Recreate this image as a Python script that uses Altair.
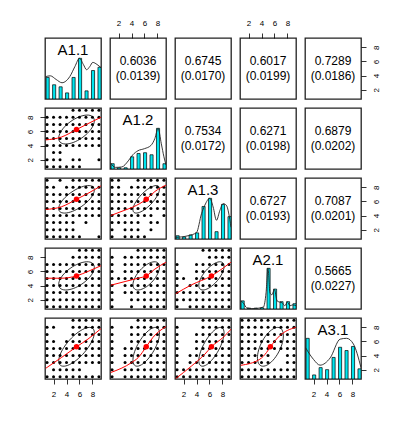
import altair as alt
import pandas as pd
import numpy as np

FONT = "Liberation Sans"
names = ["A1.1", "A1.2", "A1.3", "A2.1", "A3.1"]
means = [5.54, 6.27, 6.30, 5.37, 5.24]
sds = [2.75, 2.05, 1.95, 2.0, 2.75]
levels = [1, 2, 3, 4, 5, 6, 7, 8, 9]
ticks = [2, 4, 6, 8]

# upper panels: estimate and (standard error)
r_01, se_01 = 0.6036, 0.0139
r_02, se_02 = 0.6745, 0.0170
r_03, se_03 = 0.6017, 0.0199
r_04, se_04 = 0.7289, 0.0186
r_12, se_12 = 0.7534, 0.0172
r_13, se_13 = 0.6271, 0.0198
r_14, se_14 = 0.6879, 0.0202
r_23, se_23 = 0.6727, 0.0193
r_24, se_24 = 0.7087, 0.0201
r_34, se_34 = 0.5665, 0.0227
upper = {(0, 1): (r_01, se_01), (0, 2): (r_02, se_02), (0, 3): (r_03, se_03), (0, 4): (r_04, se_04),
         (1, 2): (r_12, se_12), (1, 3): (r_13, se_13), (1, 4): (r_14, se_14),
         (2, 3): (r_23, se_23), (2, 4): (r_24, se_24), (3, 4): (r_34, se_34)}

# histogram heights (relative to the tallest bar) for values 1..9
hist_a11 = [0.53, 0.35, 0.30, 0.15, 0.53, 1.00, 0.20, 0.70, 0.78]
hist_a12 = [0.13, 0.03, 0.03, 0.30, 0.38, 0.40, 0.35, 1.00, 0.13]
hist_a13 = [0.08, 0.05, 0.10, 0.15, 0.80, 1.00, 0.18, 0.85, 0.55]
hist_a21 = [0.20, 0.02, 0.02, 0.03, 1.00, 0.49, 0.18, 0.18, 0.13]
hist_a31 = [1.00, 0.10, 0.28, 0.23, 0.53, 0.78, 0.70, 0.80, 0.25]
hists = [hist_a11, hist_a12, hist_a13, hist_a21, hist_a31]

# density curves (relative to peak)
dx_a11 = [0.77, 1.5, 2.4, 3.3, 4.5, 5.3, 6.0, 6.6, 7.1, 7.6, 8.05, 8.7, 9.32]
dy_a11 = [0.55, 0.57, 0.48, 0.40, 0.55, 0.80, 1.00, 0.85, 0.72, 0.80, 0.90, 0.85, 0.77]
dx_a12 = [0.77, 1.5, 2.5, 3.5, 4.2, 5.0, 6.0, 7.0, 7.6, 8.1, 8.6, 9.0, 9.32]
dy_a12 = [0.15, 0.04, 0.05, 0.20, 0.35, 0.45, 0.50, 0.58, 0.75, 1.00, 0.62, 0.30, 0.10]
dx_a13 = [0.77, 2.7, 4.0, 4.77, 5.28, 6.05, 6.56, 7.08, 7.6, 8.1, 8.6, 9.32]
dy_a13 = [0.04, 0.08, 0.16, 0.62, 0.83, 1.00, 0.79, 0.46, 0.70, 0.87, 0.83, 0.29]
dx_a21 = [0.77, 1.2, 1.7, 2.5, 3.5, 4.3, 4.7, 5.0, 5.3, 5.6, 6.0, 6.4, 6.8, 7.2, 7.6, 8.0, 8.4, 8.8, 9.32]
dy_a21 = [0.20, 0.15, 0.03, 0.01, 0.02, 0.05, 0.40, 1.00, 0.40, 0.35, 0.48, 0.20, 0.17, 0.15, 0.08, 0.17, 0.08, 0.10, 0.08]
dx_a31 = [0.77, 2.0, 3.0, 4.57, 6.1, 7.1, 8.15, 9.32]
dy_a31 = [0.77, 0.48, 0.34, 0.52, 0.98, 1.00, 0.86, 0.28]
dens = [(dx_a11, dy_a11), (dx_a12, dy_a12), (dx_a13, dy_a13), (dx_a21, dy_a21), (dx_a31, dy_a31)]

# loess smoothers in the lower panels
loess = {
    (1, 0): ([0.8, 3.2, 5.54, 7.3, 9.3], [4.8, 5.2, 6.27, 7.1, 8.0]),
    (2, 0): ([0.8, 3.2, 5.54, 7.3, 9.3], [4.86, 5.24, 6.30, 7.14, 8.2]),
    (2, 1): ([0.8, 2.7, 4.3, 6.27, 7.6, 9.3], [4.0, 4.67, 5.24, 6.30, 7.4, 8.3]),
    (3, 0): ([0.8, 3.2, 5.54, 7.3, 9.3], [5.04, 5.04, 5.37, 6.0, 6.8]),
    (3, 1): ([0.8, 3.0, 5.0, 6.27, 7.6, 9.3], [4.05, 4.57, 5.04, 5.37, 6.33, 7.3]),
    (3, 2): ([0.8, 3.2, 6.30, 8.1, 9.3], [2.85, 4.09, 5.37, 6.47, 7.3]),
    (4, 0): ([0.8, 3.2, 5.54, 7.3, 9.3], [2.2, 3.71, 5.24, 6.33, 7.8]),
    (4, 1): ([0.8, 4.0, 5.03, 6.27, 7.3, 9.3], [1.6, 3.0, 3.71, 5.24, 6.57, 8.1]),
    (4, 2): ([0.8, 3.23, 5.28, 6.30, 8.1, 9.4], [0.75, 2.52, 4.19, 5.24, 6.57, 7.8]),
    (4, 3): ([0.8, 3.74, 4.77, 5.37, 6.8, 9.3], [2.62, 3.48, 4.43, 5.24, 6.8, 8.0]),
}

# occupied cells of the lower scatter panels, rows from value 9 down to 1, columns 1..9
dots = {
    (1, 0): ["....#####", "#########", "#########", "#########", "#########", "#########", ".##......", "###.##..#", "######..."],
    (2, 0): ["#.#.#####", "##.######", "#########", "#########", "#########", "#########", "#####.#..", "#####....", "######..#"],
    (2, 1): ["##..#####", "##.######", "#########", "#########", "#########", "#######.#", "#####.##.", "#.###.#..", "#.####..."],
    (3, 0): [".....####", "....#####", "#########", "#########", "#########", "#########", "#########", "#########", "#########"],
    (3, 1): ["....#####", "#.#######", "#.#######", "#.#######", "#########", "#.#######", "#.#######", "#..######", "#..#.####"],
    (3, 2): ["....#####", ".....####", "#..######", "#..######", "##.######", "#.#######", "#########", "#########", "#.#######"],
    (4, 0): ["....#####", "##..#####", "#...#####", "##.######", "#########", "#########", "#########", ".#####...", "#########"],
    (4, 1): ["....#####", "#..######", "#..######", "#..######", "#.#######", "#.#######", "#.#######", "#.#######", "#.#######"],
    (4, 2): ["....#####", "#...#####", "#..######", "#..######", "#..######", "#.#######", "#.#######", "#########", "#########"],
    (4, 3): ["#########", "#########", "#########", "#########", "#########", "#####..##", "#####..##", "#########", "#########"],
}

W, H = 56, 61
DOM = [0.68, 9.32]
VIEW = alt.ViewBackground(stroke="#222222", strokeWidth=1.3, fill="white")


def sc():
    return alt.Scale(domain=DOM, nice=False, zero=False)


def xaxis(orient):
    if orient is None:
        return None
    return alt.Axis(orient=orient, values=ticks, tickSize=5, labelPadding=6, labelFontSize=8,
                    labelFont=FONT, domain=False, grid=False, title=None, labelAngle=0,
                    tickColor="#000", labelColor="#000", tickWidth=0.8)


def yaxis(orient):
    if orient is None:
        return None
    return alt.Axis(orient=orient, values=ticks, tickSize=5, labelPadding=6, labelFontSize=8,
                    labelFont=FONT, domain=False, grid=False, title=None, labelAngle=270,
                    tickColor="#000", labelColor="#000", tickWidth=0.8)


def orients(i, j):
    xo = "bottom" if (i == 4 and j in (0, 2, 4)) else ("top" if (i == 0 and j in (1, 3)) else None)
    yo = "left" if (j == 0 and i in (1, 3)) else ("right" if (j == 4 and i in (0, 2, 4)) else None)
    return xo, yo


def XE(field, i, j):
    return alt.X(field, scale=sc(), axis=xaxis(orients(i, j)[0]))


def YE(field, i, j):
    return alt.Y(field, scale=sc(), axis=yaxis(orients(i, j)[1]))


def frame(i, j):
    df = pd.DataFrame({"x": ticks, "y": ticks})
    return alt.Chart(df).mark_point(opacity=0).encode(x=XE("x:Q", i, j), y=YE("y:Q", i, j))


def lower(i, j):
    pts = []
    for k, row in enumerate(dots[(i, j)]):
        yv = 9 - k
        for c, ch in enumerate(row):
            if ch == "#":
                pts.append({"x": levels[c], "y": yv})
    pdf = pd.DataFrame(pts)
    sc_layer = alt.Chart(pdf).mark_circle(size=9, color="black", opacity=1, clip=True).encode(
        x=XE("x:Q", i, j), y=YE("y:Q", i, j))
    # correlation ellipse (1 sd), as drawn by psych::draw.ellipse
    r = upper[(j, i)][0]
    th = 1 / np.sqrt(2)
    a = np.arange(0, 52) * 2 * np.pi / 51
    ex = (np.cos(a) * np.sqrt(1 + r) * th - np.sin(a) * np.sqrt(1 - r) * th) * sds[j] + means[j]
    ey = (np.cos(a) * np.sqrt(1 + r) * th + np.sin(a) * np.sqrt(1 - r) * th) * sds[i] + means[i]
    edf = pd.DataFrame({"x": ex, "y": ey, "k": np.arange(len(a))})
    ell = alt.Chart(edf).mark_line(color="black", strokeWidth=0.8, clip=True).encode(
        x=XE("x:Q", i, j), y=YE("y:Q", i, j), order="k:Q")
    lx, ly = loess[(i, j)]
    ldf = pd.DataFrame({"x": lx, "y": ly, "k": range(len(lx))})
    lo = alt.Chart(ldf).mark_line(color="red", strokeWidth=1, clip=True, interpolate="monotone").encode(
        x=XE("x:Q", i, j), y=YE("y:Q", i, j), order="k:Q")
    mdf = pd.DataFrame({"x": [means[j]], "y": [means[i]]})
    mp = alt.Chart(mdf).mark_circle(size=30, color="red", opacity=1).encode(
        x=XE("x:Q", i, j), y=YE("y:Q", i, j))
    return alt.layer(frame(i, j), sc_layer, ell, lo, mp).properties(width=W, height=H, view=VIEW)


def upper_panel(i, j):
    r, se = upper[(i, j)]
    tdf = pd.DataFrame({"t": [f"{r:.4f}", f"({se:.4f})"], "k": [0, 1]})
    t1 = alt.Chart(tdf).transform_filter("datum.k == 0").mark_text(
        font=FONT, fontSize=12, color="black", baseline="middle").encode(
        x=alt.value(W / 2), y=alt.value(23), text="t:N")
    t2 = alt.Chart(tdf).transform_filter("datum.k == 1").mark_text(
        font=FONT, fontSize=12, color="black", baseline="middle").encode(
        x=alt.value(W / 2), y=alt.value(38), text="t:N")
    return alt.layer(frame(i, j), t1, t2).properties(width=W, height=H, view=VIEW)


def diag(i):
    h = hists[i]
    bdf = pd.DataFrame({"x0": [v - 0.15 for v in levels], "x1": [v + 0.33 for v in levels],
                        "h": h, "b": [0] * 9})
    ys = alt.Scale(domain=[0, 1.5], nice=False, zero=False)
    bars = alt.Chart(bdf).mark_rect(fill="#00E5EE", stroke="black", strokeWidth=0.7, clip=True).encode(
        x=XE("x0:Q", i, i), x2="x1:Q",
        y=alt.Y("h:Q", scale=ys, axis=None), y2="b:Q")
    dxs, dys = dens[i]
    ddf = pd.DataFrame({"x": dxs, "h": dys, "k": range(len(dxs))})
    dl = alt.Chart(ddf).mark_line(color="#222", strokeWidth=0.9, clip=True, interpolate="monotone").encode(
        x=XE("x:Q", i, i), y=alt.Y("h:Q", scale=ys, axis=None), order="k:Q")
    ndf = pd.DataFrame({"t": [names[i]]})
    tt = alt.Chart(ndf).mark_text(font=FONT, fontSize=15, color="black", baseline="middle").encode(
        x=alt.value(W / 2), y=alt.value(12), text="t:N")
    return alt.layer(frame(i, i), bars, dl, tt).resolve_scale(y="independent").properties(
        width=W, height=H, view=VIEW)


panels = []
for i in range(5):
    for j in range(5):
        if i == j:
            panels.append(diag(i))
        elif i < j:
            panels.append(upper_panel(i, j))
        else:
            panels.append(lower(i, j))

chart = alt.concat(*panels, columns=5, spacing=9, bounds="flush").properties(
    padding={"left": 17, "top": 10, "right": 5, "bottom": 5}
).configure_view(stroke="#222222", strokeWidth=1.3).configure(background="white")

chart.save("out.html", embed_options={"renderer": "svg", "actions": False})
